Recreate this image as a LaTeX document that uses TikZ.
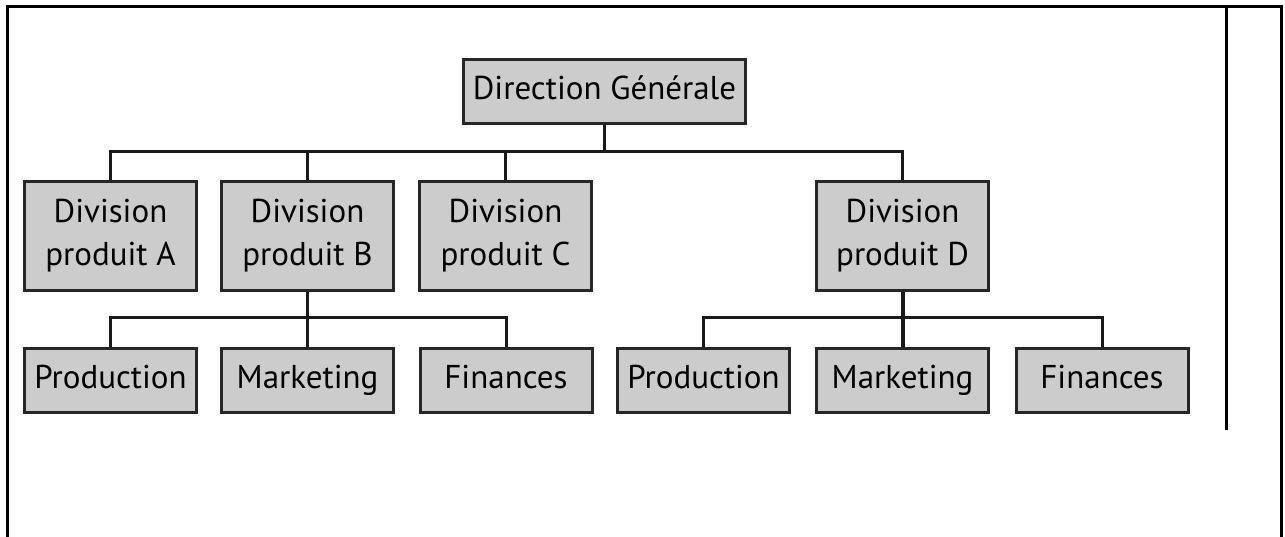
\documentclass[tikz,border=0pt]{standalone}
\usepackage{fontspec}
\setmainfont{PT Sans}
\begin{document}
\begin{tikzpicture}[x=1pt,y=-1pt,
  unit/.style={draw=black!85, line width=3pt, fill=gray!40, inner sep=0pt,
    align=center, font=\fontsize{33}{43}\selectfont},
  headbox/.style={unit, minimum width=282pt, minimum height=64pt,
    text height=23pt, text depth=7pt},
  divbox/.style={unit, minimum width=172pt, minimum height=109pt},
  deptbox/.style={unit, minimum width=172pt, minimum height=64pt,
    text height=23pt, text depth=7pt},
  link/.style={line width=3pt, draw=black!90},
  rule/.style={line width=3pt, draw=black}]
\useasboundingbox (0,0) rectangle (1285,537);

% page frame
\draw[rule] (7,537) -- (7,7) -- (1281,7) -- (1281,537);
\draw[rule] (1226,7) -- (1226,430);

% top level
\node[headbox] (dg) at (604.5,91.5) {Direction Générale};

% divisions
\node[divbox] (da) at (110.5,236) {Division\\produit A};
\node[divbox] (db) at (307.5,236) {Division\\produit B};
\node[divbox] (dc) at (505.5,236) {Division\\produit C};
\node[divbox] (dd) at (902.5,236) {Division\\produit D};

% departments of division B
\node[deptbox] (pb) at (110.5,380.5) {Production};
\node[deptbox] (mb) at (307.5,380.5) {Marketing};
\node[deptbox] (fb) at (506,380.5)   {Finances};

% departments of division D
\node[deptbox] (pd) at (703.5,380.5) {Production};
\node[deptbox] (md) at (902.5,380.5) {Marketing};
\node[deptbox] (fd) at (1102,380.5)  {Finances};

% bus levels
\coordinate (bus1) at (0,152);
\coordinate (bus2) at (0,318);

% direction -> divisions
\draw[link] (da.north) -- (da.north |- bus1) -| (dd.north);
\draw[link] (dg.south) -- (dg.south |- bus1);
\draw[link] (db.north) -- (db.north |- bus1);
\draw[link] (dc.north) -- (dc.north |- bus1);

% division B -> departments
\draw[link] (pb.north) -- (pb.north |- bus2) -| (fb.north);
\draw[link] (db.south) -- (mb.north);

% division D -> departments
\draw[link] (pd.north) -- (pd.north |- bus2) -| (fd.north);
\draw[link, line width=4pt] (dd.south) -- (md.north);
\end{tikzpicture}
\end{document}
